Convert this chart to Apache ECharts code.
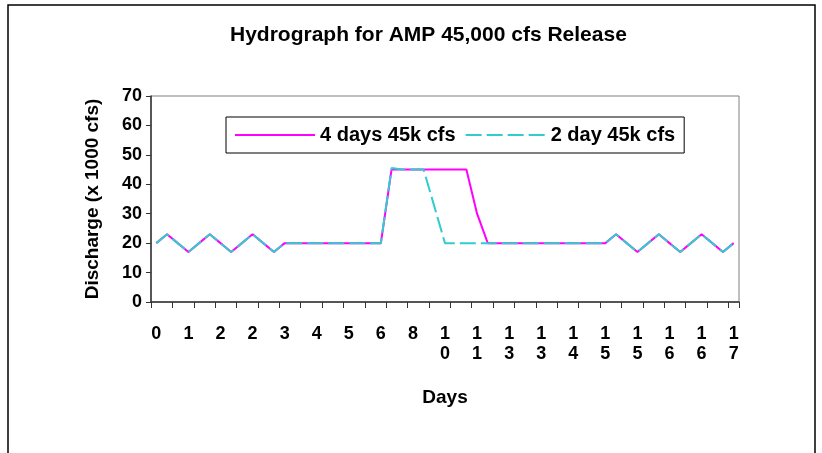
<!DOCTYPE html>
<html>
<head>
<meta charset="utf-8">
<script src="https://cdn.jsdelivr.net/npm/echarts@6/dist/echarts.min.js"></script>
<style>
  html, body { margin: 0; padding: 0; background: #fff; }
  #chart { width: 822px; height: 453px; }
</style>
</head>
<body>
<div id="chart"></div>
<script>
// Tick labels shown on the Days axis (one every third category)
const dayLabels = ['0','1','2','2','3','4','5','6','8','10','11','13','13','14','15','15','16','16','17'];
const categoryCount = 55;

// Discharge (x 1000 cfs) per category
const fourDays = [
  20, 23, 20, 17, 20, 23, 20, 17, 20, 23, 20, 17, 20,
  20, 20, 20, 20, 20, 20, 20, 20, 20,
  45, 45, 45, 45, 45, 45, 45, 45,
  30, 20,
  20, 20, 20, 20, 20, 20, 20, 20, 20, 20, 20,
  23, 20, 17, 20, 23, 20, 17, 20, 23, 20, 17, 20
];
const twoDay = [
  20, 23, 20, 17, 20, 23, 20, 17, 20, 23, 20, 17, 20,
  20, 20, 20, 20, 20, 20, 20, 20, 20,
  45.5, 45, 45, 45,
  32.5, 20, 20, 20,
  20, 20,
  20, 20, 20, 20, 20, 20, 20, 20, 20, 20, 20,
  23, 20, 17, 20, 23, 20, 17, 20, 23, 20, 17, 20
];

const categories = [];
for (let k = 0; k < categoryCount; k++) {
  categories.push(k % 3 === 0 ? dayLabels[k / 3] : '');
}

const FONT = '"Liberation Sans", Arial, sans-serif';
const chart = echarts.init(document.getElementById('chart'), null, { renderer: 'canvas' });

chart.setOption({
  animation: false,
  backgroundColor: '#ffffff',
  title: {
    text: 'Hydrograph for AMP 45,000 cfs Release',
    left: 230,
    top: 25,
    padding: 0,
    textStyle: { fontFamily: FONT, fontSize: 21, fontWeight: 'bold', color: '#000' }
  },
  graphic: [{
    type: 'rect',
    shape: { x: 8, y: 5, width: 807, height: 470 },
    style: { fill: 'none', stroke: '#000', lineWidth: 1.5 },
    silent: true
  }],
  legend: {
    left: 226,
    top: 117,
    orient: 'horizontal',
    padding: [8, 9, 8, 8],
    itemGap: 9,
    itemWidth: 80,
    itemHeight: 14,
    borderColor: '#000',
    borderWidth: 1,
    itemStyle: { opacity: 0 },
    textStyle: { fontFamily: FONT, fontSize: 20, fontWeight: 'bold', color: '#000' },
    data: ['4 days 45k cfs', '2 day 45k cfs']
  },
  grid: {
    left: 151, right: 83, top: 96, bottom: 151,
    show: true,
    borderColor: '#808080',
    borderWidth: 1,
    backgroundColor: 'transparent'
  },
  xAxis: {
    type: 'category',
    data: categories,
    boundaryGap: true,
    name: 'Days',
    nameLocation: 'middle',
    nameGap: 86,
    nameTextStyle: { fontFamily: FONT, fontSize: 19, fontWeight: 'bold', color: '#000' },
    axisLine: { lineStyle: { color: '#333', width: 1.5 } },
    axisTick: { show: true, interval: 1, length: 6, lineStyle: { color: '#333', width: 1 } },
    axisLabel: {
      interval: 2,
      margin: 22,
      fontFamily: FONT, fontSize: 18, fontWeight: 'bold', color: '#000',
      lineHeight: 20,
      formatter: function (v) { return v.split('').join('\n'); }
    },
    splitLine: { show: false }
  },
  yAxis: {
    type: 'value',
    min: 0, max: 70, interval: 10,
    name: 'Discharge (x 1000 cfs)',
    nameLocation: 'middle',
    nameGap: 49,
    nameTextStyle: { fontFamily: FONT, fontSize: 19, fontWeight: 'bold', color: '#000' },
    axisLine: { show: true, lineStyle: { color: '#333', width: 1.5 } },
    axisTick: { show: true, length: 5, lineStyle: { color: '#333', width: 1 } },
    axisLabel: { margin: 9, fontFamily: FONT, fontSize: 18, fontWeight: 'bold', color: '#000' },
    splitLine: { show: false }
  },
  series: [
    {
      name: '4 days 45k cfs',
      type: 'line',
      data: fourDays,
      showSymbol: false,
      symbol: 'none',
      lineStyle: { color: '#FF00FF', width: 2 },
      itemStyle: { color: '#FF00FF' },
      z: 2
    },
    {
      name: '2 day 45k cfs',
      type: 'line',
      data: twoDay,
      showSymbol: false,
      symbol: 'none',
      lineStyle: { color: '#33CCCC', width: 2, type: [16, 5] },
      itemStyle: { color: '#33CCCC' },
      z: 3
    }
  ]
});
</script>
</body>
</html>
